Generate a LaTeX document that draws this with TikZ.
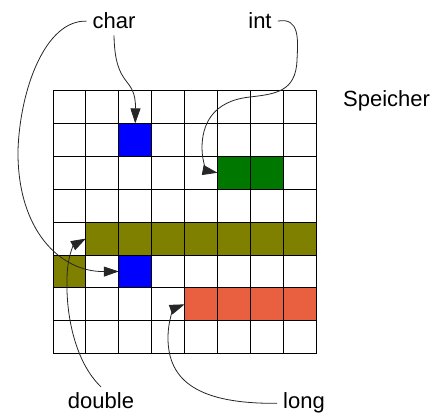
\documentclass[tikz,border=0pt]{standalone}
\usepackage{fontspec}
\setmainfont{Liberation Sans}
\usetikzlibrary{arrows.meta}
\definecolor{charblau}{RGB}{0,0,255}
\definecolor{intgruen}{RGB}{0,120,0}
\definecolor{doubleoliv}{RGB}{128,128,0}
\definecolor{longrot}{RGB}{232,96,64}
\tikzset{
    %Define standard arrow tip
    >={Triangle[length=15pt,width=10pt]},
    font=\fontsize{22}{26}\selectfont,
    %Define style for occupied memory cells
    block/.style={
           rectangle,
           draw=none,
           inner sep=0pt, outer sep=0pt,
           anchor=north west,
           minimum height=32.9pt},
    % Define style for type names
    typ/.style={inner sep=6pt, anchor=base},
    % Define arrow style
    pfeil/.style={
           ->,
           line width=0.8pt,
           draw=black!85}
}

\begin{document}
\begin{tikzpicture}[x=1pt,y=-1pt]
  \useasboundingbox (0,0) rectangle (440,414);
  \def\zelle{32.9}
  % occupied cells
  \node[block, fill=charblau, minimum width=32.9pt] (char1) at (118.8,123.4) {};
  \node[block, fill=intgruen, minimum width=65.8pt] (intblk) at (217.5,156.3) {};
  \node[block, fill=doubleoliv, minimum width=230.3pt] (dblA) at (85.9,222.1) {};
  \node[block, fill=doubleoliv, minimum width=32.9pt] (dblB) at (53,255) {};
  \node[block, fill=charblau, minimum width=32.9pt] (char2) at (118.8,255) {};
  \node[block, fill=longrot, minimum width=131.6pt] (longblk) at (184.6,287.9) {};
  % memory grid
  \foreach \i in {0,...,8} {
    \draw[line width=0.9pt] (53+\i*\zelle,90.5) -- (53+\i*\zelle,353.7);
    \draw[line width=0.9pt] (53,90.5+\i*\zelle) -- (316.2,90.5+\i*\zelle);
  }
  % labels
  \node[typ] (lchar) at (114,29) {char};
  \node[typ] (lint) at (260,29) {int};
  \node[typ] (ldouble) at (101,409) {double};
  \node[typ, anchor=base west] (llong) at (277,409) {long};
  \node[anchor=base west, inner sep=0pt] (speicher) at (343,107) {Speicher};
  % arrows
  \draw[pfeil] (lchar.south) .. controls (115,90) and (136,75) .. (char1.north);
  \draw[pfeil] (lchar.west) .. controls (45,20) and (20,90) .. (18,150)
    .. controls (17,230) and (60,272) .. (char2.west);
  \draw[pfeil] (lint.east) .. controls (300,17) and (298,40) .. (297,60)
    .. controls (296,92) and (275,94) .. (250,97)
    .. controls (212,101) and (202,125) .. (202,148)
    .. controls (202,163) and (208,171) .. (intblk.west);
  \draw[pfeil] (ldouble.north) .. controls (75,362) and (66,315) .. (67,280)
    .. controls (67,256) and (74,245) .. (dblA.west);
  \draw[pfeil] (llong.west) .. controls (200,404) and (168,382) .. (168,338)
    .. controls (168,318) and (175,308) .. (longblk.west);
\end{tikzpicture}
\end{document}
